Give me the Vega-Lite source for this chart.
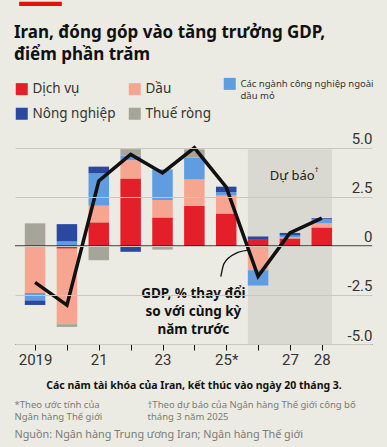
{
  "$schema": "https://vega.github.io/schema/vega-lite/v6.json",
  "width": 357,
  "height": 206,
  "autosize": {"type": "none"},
  "padding": {"left": 15, "top": 138, "right": 15, "bottom": 103},
  "background": "#ecebe3",
  "config": {"view": {"stroke": null}, "font": "Noto Sans"},
  "title": {
    "text": ["Iran, đóng góp vào tăng trưởng GDP,", "điểm phần trăm"],
    "anchor": "start",
    "frame": "group",
    "font": "Noto Sans",
    "fontSize": 17,
    "fontWeight": "bold",
    "color": "#111111",
    "lineHeight": 22,
    "offset": 0,
    "dy": 62,
    "dx": -1
  },
  "datasets": {
    "bars": [
      {"year": 2019, "cat": "Dịch vụ", "value": 0},
      {"year": 2019, "cat": "Dầu", "value": -2.4},
      {"year": 2019, "cat": "Các ngành công nghiệp ngoài dầu mỏ", "value": -0.38},
      {"year": 2019, "cat": "Nông nghiệp", "value": -0.23},
      {"year": 2019, "cat": "Thuế ròng", "value": 1.15},
      {"year": 2020, "cat": "Dịch vụ", "value": -0.14},
      {"year": 2020, "cat": "Dầu", "value": -3.85},
      {"year": 2020, "cat": "Các ngành công nghiệp ngoài dầu mỏ", "value": 0.23},
      {"year": 2020, "cat": "Nông nghiệp", "value": 0.88},
      {"year": 2020, "cat": "Thuế ròng", "value": -0.14},
      {"year": 2021, "cat": "Dịch vụ", "value": 1.2},
      {"year": 2021, "cat": "Dầu", "value": 0.85},
      {"year": 2021, "cat": "Các ngành công nghiệp ngoài dầu mỏ", "value": 1.65},
      {"year": 2021, "cat": "Nông nghiệp", "value": 0.34},
      {"year": 2021, "cat": "Thuế ròng", "value": -0.73},
      {"year": 2022, "cat": "Dịch vụ", "value": 3.44},
      {"year": 2022, "cat": "Dầu", "value": 0.93},
      {"year": 2022, "cat": "Các ngành công nghiệp ngoài dầu mỏ", "value": 0.23},
      {"year": 2022, "cat": "Nông nghiệp", "value": -0.3},
      {"year": 2022, "cat": "Thuế ròng", "value": 0.33},
      {"year": 2023, "cat": "Dịch vụ", "value": 1.45},
      {"year": 2023, "cat": "Dầu", "value": 0.89},
      {"year": 2023, "cat": "Các ngành công nghiệp ngoài dầu mỏ", "value": 1.56},
      {"year": 2023, "cat": "Nông nghiệp", "value": 0},
      {"year": 2023, "cat": "Thuế ròng", "value": -0.19},
      {"year": 2024, "cat": "Dịch vụ", "value": 2.04},
      {"year": 2024, "cat": "Dầu", "value": 1.35},
      {"year": 2024, "cat": "Các ngành công nghiệp ngoài dầu mỏ", "value": 1.11},
      {"year": 2024, "cat": "Nông nghiệp", "value": 0},
      {"year": 2024, "cat": "Thuế ròng", "value": 0.42},
      {"year": 2025, "cat": "Dịch vụ", "value": 1.65},
      {"year": 2025, "cat": "Dầu", "value": 0.92},
      {"year": 2025, "cat": "Các ngành công nghiệp ngoài dầu mỏ", "value": 0.17},
      {"year": 2025, "cat": "Nông nghiệp", "value": 0.28},
      {"year": 2025, "cat": "Thuế ròng", "value": 0},
      {"year": 2026, "cat": "Dịch vụ", "value": 0.31},
      {"year": 2026, "cat": "Dầu", "value": -1.24},
      {"year": 2026, "cat": "Các ngành công nghiệp ngoài dầu mỏ", "value": -0.78},
      {"year": 2026, "cat": "Nông nghiệp", "value": 0.17},
      {"year": 2026, "cat": "Thuế ròng", "value": 0},
      {"year": 2027, "cat": "Dịch vụ", "value": 0.38},
      {"year": 2027, "cat": "Dầu", "value": 0.07},
      {"year": 2027, "cat": "Các ngành công nghiệp ngoài dầu mỏ", "value": 0.08},
      {"year": 2027, "cat": "Nông nghiệp", "value": 0.13},
      {"year": 2027, "cat": "Thuế ròng", "value": 0},
      {"year": 2028, "cat": "Dịch vụ", "value": 0.94},
      {"year": 2028, "cat": "Dầu", "value": 0.22},
      {"year": 2028, "cat": "Các ngành công nghiệp ngoài dầu mỏ", "value": 0.2},
      {"year": 2028, "cat": "Nông nghiệp", "value": 0.05},
      {"year": 2028, "cat": "Thuế ròng", "value": 0}
    ],
    "gdp": [
      {"year": 2019, "gdp": -1.86},
      {"year": 2020, "gdp": -3.02},
      {"year": 2021, "gdp": 3.31},
      {"year": 2022, "gdp": 4.66},
      {"year": 2023, "gdp": 3.72},
      {"year": 2024, "gdp": 5.0},
      {"year": 2025, "gdp": 3.0},
      {"year": 2026, "gdp": -1.55},
      {"year": 2027, "gdp": 0.66},
      {"year": 2028, "gdp": 1.42}
    ],
    "callout": [
      {"cx": 2024.83, "cy": -1.57},
      {"cx": 2024.93, "cy": -0.9},
      {"cx": 2025.29, "cy": -0.39},
      {"cx": 2025.7, "cy": -0.22}
    ]
  },
  "resolve": {"axis": {"x": "independent"}},
  "layer": [
    {
      "data": {"values": [{}]},
      "mark": {"type": "rect", "color": "#d9d8d1"},
      "encoding": {
        "x": {"datum": 2025.68, "type": "quantitative", "scale": {"domain": [2018.527, 2029.419], "nice": false, "zero": false},
          "axis": {"orient": "bottom", "domain": false, "ticks": false, "labels": false, "grid": false,
            "title": ["*Theo ước tính của", "Ngân hàng Thế giới"],
            "titleFont": "Noto Sans", "titleFontSize": 9.5, "titleFontWeight": "normal", "titleColor": "#7a7a76",
            "titleAlign": "left", "titleBaseline": "alphabetic", "titleX": -1, "titleY": 63, "titleLineHeight": 12}},
        "x2": {"datum": 2028.32},
        "y": {"datum": -5, "type": "quantitative", "scale": {"domain": [-5, 5.5], "nice": false, "zero": false},
          "axis": {"orient": "right", "values": [-5, -2.5, 0, 2.5, 5],
            "labelExpr": "datum.value == 5 ? '5.0' : datum.value == 2.5 ? '2.5' : datum.value == 0 ? '0' : datum.value == -2.5 ? '-2.5' : '-5.0'",
            "domain": false, "ticks": false, "tickSize": 0, "labels": true, "labelAlign": "right", "labelBaseline": "alphabetic",
            "labelOffset": -4, "labelPadding": 0, "labelFont": "Roboto", "labelFontSize": 15, "labelColor": "#333333",
            "grid": true, "gridColor": "#c9c8c0", "gridWidth": 1, "title": null, "zindex": 1}},
        "y2": {"datum": 4.93}
      }
    },
    {
      "data": {"values": [{}]},
      "mark": {"type": "rect", "color": "#ecebe3"},
      "encoding": {
        "x": {"datum": 2021.73, "type": "quantitative", "scale": {"domain": [2018.527, 2029.419], "nice": false, "zero": false},
          "axis": {"orient": "bottom", "domain": false, "ticks": false, "labels": false, "grid": false,
            "title": ["†Theo dự báo của Ngân hàng Thế giới công bố", "  tháng 3 năm 2025"],
            "titleFont": "Noto Sans", "titleFontSize": 9.5, "titleFontWeight": "normal", "titleColor": "#7a7a76",
            "titleAlign": "left", "titleBaseline": "alphabetic", "titleX": 132, "titleY": 63, "titleLineHeight": 12}},
        "x2": {"datum": 2025.66},
        "y": {"datum": -2.3, "type": "quantitative", "scale": {"domain": [-5, 5.5], "nice": false, "zero": false}},
        "y2": {"datum": -2.7}
      }
    },
    {
      "data": {"name": "bars"},
      "transform": [
        {"calculate": "indexof(['Dịch vụ','Dầu','Các ngành công nghiệp ngoài dầu mỏ','Nông nghiệp','Thuế ròng'], datum.cat)", "as": "k"}
      ],
      "mark": {"type": "bar", "width": 20.5},
      "encoding": {
        "x": {"field": "year", "type": "quantitative", "scale": {"domain": [2018.527, 2029.419], "nice": false, "zero": false},
          "axis": {"orient": "bottom", "values": [2019, 2020, 2021, 2022, 2023, 2024, 2025, 2026, 2027, 2028],
            "labelExpr": "datum.value == 2019 ? '2019' : datum.value == 2021 ? '21' : datum.value == 2023 ? '23' : datum.value == 2025 ? '25*' : datum.value == 2027 ? '27' : datum.value == 2028 ? '28' : ''",
            "domainColor": "#111111", "domainWidth": 1, "tickColor": "#111111", "tickSize": 6, "tickWidth": 1,
            "labelFont": "Roboto", "labelFontSize": 15, "labelColor": "#333333", "labelPadding": 2,
            "labelFlush": false, "labelOverlap": false, "grid": false,
            "title": "Các năm tài khóa của Iran, kết thúc vào ngày 20 tháng 3.",
            "titleFont": "Noto Sans", "titleFontSize": 10.5, "titleFontWeight": "bold", "titleColor": "#111111",
            "titleBaseline": "alphabetic", "titleY": 44}},
        "y": {"field": "value", "type": "quantitative", "stack": "zero", "scale": {"domain": [-5, 5.5], "nice": false, "zero": false}},
        "color": {"field": "cat", "type": "nominal",
          "scale": {"domain": ["Dịch vụ", "Dầu", "Các ngành công nghiệp ngoài dầu mỏ", "Nông nghiệp", "Thuế ròng"],
                    "range": ["#e3202a", "#f6a690", "#5f9de0", "#2a48a0", "#a6a599"]},
          "legend": {"orient": "none", "legendX": 0, "legendY": -61, "columns": 3, "direction": "horizontal", "title": null,
            "symbolType": "square", "symbolSize": 144, "symbolStrokeWidth": 0,
            "labelFont": "Noto Sans", "labelFontSize": 13.5, "labelColor": "#333333", "labelOffset": 4, "labelLimit": 400,
            "columnPadding": 12, "rowPadding": 5, "padding": 0,
            "labelExpr": "datum.label == 'Các ngành công nghiệp ngoài dầu mỏ' ? ['Các ngành công nghiệp ngoài', 'dầu mỏ'] : datum.label",
            "encode": {"labels": {"update": {
              "fontSize": {"signal": "datum.label == 'Các ngành công nghiệp ngoài dầu mỏ' ? 9.5 : 13.5"},
              "lineHeight": {"value": 12.5}}}}}},
        "order": {"field": "k", "type": "quantitative"}
      }
    },
    {
      "data": {"values": [{}]},
      "mark": {"type": "rule", "color": "#111111", "strokeWidth": 1},
      "encoding": {
        "y": {"datum": 0, "type": "quantitative", "scale": {"domain": [-5, 5.5], "nice": false, "zero": false}}
      }
    },
    {
      "data": {"name": "gdp"},
      "mark": {"type": "line", "color": "#111111", "strokeWidth": 3.5},
      "encoding": {
        "x": {"field": "year", "type": "quantitative", "scale": {"domain": [2018.527, 2029.419], "nice": false, "zero": false}, "axis": null},
        "y": {"field": "gdp", "type": "quantitative", "scale": {"domain": [-5, 5.5], "nice": false, "zero": false}}
      }
    },
    {
      "data": {"name": "callout"},
      "mark": {"type": "line", "color": "#111111", "strokeWidth": 1.3, "interpolate": "monotone"},
      "encoding": {
        "x": {"field": "cx", "type": "quantitative", "scale": {"domain": [2018.527, 2029.419], "nice": false, "zero": false},
          "axis": {"orient": "bottom", "domain": false, "ticks": false, "labels": false, "grid": false,
            "title": "Nguồn: Ngân hàng Trung ương Iran; Ngân hàng Thế giới",
            "titleFont": "Noto Sans", "titleFontSize": 10.8, "titleFontWeight": "normal", "titleColor": "#7a7a76",
            "titleAlign": "left", "titleBaseline": "alphabetic", "titleX": -1, "titleY": 93}},
        "y": {"field": "cy", "type": "quantitative", "scale": {"domain": [-5, 5.5], "nice": false, "zero": false}}
      }
    },
    {
      "data": {"values": [{}]},
      "mark": {"type": "text", "font": "Noto Sans", "fontSize": 13.5, "fontWeight": "bold", "color": "#111111",
        "align": "center", "baseline": "middle", "lineHeight": 18,
        "text": ["GDP, % thay đổi", "so với cùng kỳ", "năm trước"]},
      "encoding": {
        "x": {"datum": 2023.97, "type": "quantitative", "scale": {"domain": [2018.527, 2029.419], "nice": false, "zero": false}, "axis": null},
        "y": {"datum": -2.45, "type": "quantitative", "scale": {"domain": [-5, 5.5], "nice": false, "zero": false}}
      }
    },
    {
      "data": {"values": [{}]},
      "mark": {"type": "text", "font": "Noto Sans", "fontSize": 13, "color": "#222222",
        "align": "center", "baseline": "middle", "text": "Dự báo"},
      "encoding": {
        "x": {"datum": 2027.07, "type": "quantitative", "scale": {"domain": [2018.527, 2029.419], "nice": false, "zero": false}, "axis": null},
        "y": {"datum": 3.58, "type": "quantitative", "scale": {"domain": [-5, 5.5], "nice": false, "zero": false}}
      }
    },
    {
      "data": {"values": [{}]},
      "mark": {"type": "text", "font": "Noto Sans", "fontSize": 7.5, "color": "#222222",
        "align": "center", "baseline": "middle", "text": "†"},
      "encoding": {
        "x": {"datum": 2027.84, "type": "quantitative", "scale": {"domain": [2018.527, 2029.419], "nice": false, "zero": false}, "axis": null},
        "y": {"datum": 3.87, "type": "quantitative", "scale": {"domain": [-5, 5.5], "nice": false, "zero": false}}
      }
    },
    {
      "data": {"values": [{}]},
      "mark": {"type": "rect", "color": "#e3120b", "clip": false},
      "encoding": {
        "x": {"datum": 2018.5, "type": "quantitative", "scale": {"domain": [2018.527, 2029.419], "nice": false, "zero": false}, "axis": null},
        "x2": {"datum": 2019.84},
        "y": {"datum": 12.23, "type": "quantitative", "scale": {"domain": [-5, 5.5], "nice": false, "zero": false}},
        "y2": {"datum": 12.44}
      }
    }
  ]
}
